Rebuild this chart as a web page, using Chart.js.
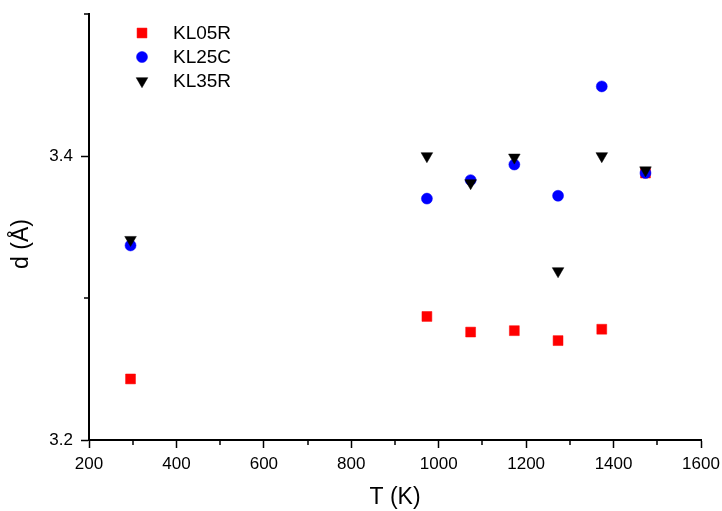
<!DOCTYPE html>
<html>
  <head>
    <meta charset="UTF-8">
    <title>d vs T</title>
    <script src="https://cdn.jsdelivr.net/npm/chart.js"></script>
    <style>
      html, body { margin: 0; padding: 0; background: #fff; }
      #wrap { width: 722px; height: 511px; }
    </style>
  </head>
  <body>
    <div id="wrap"><canvas id="myChart" width="722" height="511"></canvas></div>

    <script>
      // données
      const temperatures = [295, 973, 1073, 1173, 1273, 1373, 1473];
      const kl05r = [3.243, 3.287, 3.276, 3.277, 3.270, 3.278, 3.388];
      const kl25c = [3.337, 3.370, 3.383, 3.394, 3.372, 3.449, 3.388];
      const kl35r = [3.341, 3.400, 3.381, 3.399, 3.319, 3.400, 3.390];
      const xMajorLabels = [200, 400, 600, 800, 1000, 1200, 1400, 1600];
      const yMajorLabels = [3.2, 3.4];

      const FONT = 'Arial, "Liberation Sans", sans-serif';

      function pts(xs, ys) {
        return xs.map((x, i) => ({ x: x, y: ys[i] }));
      }

      const series = [
        { label: 'KL05R', data: kl05r, color: '#ff0000', style: 'rect', radius: 7, rotation: 0, order: 2 },
        { label: 'KL25C', data: kl25c, color: '#0000ff', style: 'circle', radius: 5.5, rotation: 0, order: 1 },
        { label: 'KL35R', data: kl35r, color: '#000000', style: 'triangle', radius: 6.7, rotation: 180, order: 0 }
      ];

      const isMajorX = v => xMajorLabels.some(m => Math.abs(m - v) < 1e-6);
      const isMajorY = v => yMajorLabels.some(m => Math.abs(m - v) < 1e-6);

      // petits traits pour les graduations secondaires + légende + titre Y
      const extras = {
        id: 'extras',
        afterDraw(chart) {
          const ctx = chart.ctx;
          const xs = chart.scales.x, ys = chart.scales.y;
          ctx.save();
          ctx.strokeStyle = '#000';
          ctx.lineWidth = 1.5;
          xs.ticks.forEach(t => {
            if (isMajorX(t.value)) return;
            const px = Math.round(xs.getPixelForValue(t.value));
            ctx.beginPath();
            ctx.moveTo(px, xs.top);
            ctx.lineTo(px, xs.top + 5);
            ctx.stroke();
          });
          ys.ticks.forEach(t => {
            if (isMajorY(t.value)) return;
            const py = Math.round(ys.getPixelForValue(t.value));
            ctx.beginPath();
            ctx.moveTo(ys.right, py);
            ctx.lineTo(ys.right - 5, py);
            ctx.stroke();
          });

          // légende
          series.forEach((s, i) => {
            const y = 33 + i * 24;
            ctx.fillStyle = s.color;
            ctx.strokeStyle = s.color;
            ctx.lineWidth = 0.5;
            Chart.helpers.drawPoint(ctx, { pointStyle: s.style, radius: s.radius, rotation: s.rotation, borderWidth: 0.5 }, 142, y);
            ctx.fillStyle = '#000';
            ctx.font = '19px ' + FONT;
            ctx.textBaseline = 'middle';
            ctx.textAlign = 'left';
            ctx.fillText(s.label, 173, y + 1);
          });

          // titre de l'axe Y
          ctx.translate(22, 244);
          ctx.rotate(-Math.PI / 2);
          ctx.fillStyle = '#000';
          ctx.font = '23px ' + FONT;
          ctx.textAlign = 'center';
          ctx.textBaseline = 'middle';
          ctx.fillText('d (Å)', 0, 0);
          ctx.restore();
        }
      };

      const ctx = document.getElementById('myChart').getContext('2d');
      const chart = new Chart(ctx, {
        type: 'scatter',
        data: {
          datasets: series.map(s => ({
            label: s.label,
            data: pts(temperatures, s.data),
            backgroundColor: s.color,
            borderColor: s.color,
            borderWidth: 0.5,
            pointStyle: s.style,
            pointRadius: s.radius,
            pointHoverRadius: s.radius,
            rotation: s.rotation,
            order: s.order
          }))
        },
        options: {
          responsive: false,
          animation: false,
          devicePixelRatio: 1,
          layout: { padding: { left: 0, top: 14, right: 21, bottom: 0 } },
          plugins: { legend: { display: false }, tooltip: { enabled: false } },
          scales: {
            x: {
              type: 'linear',
              min: 200,
              max: 1600,
              afterFit: s => { s.height = 71; s.paddingLeft = 0; s.paddingRight = 0; },
              border: { display: true, color: '#000', width: 2 },
              grid: {
                drawOnChartArea: false,
                drawTicks: true,
                tickLength: 8,
                tickWidth: 1.5,
                tickColor: c => isMajorX(c.tick.value) ? '#000' : 'rgba(0,0,0,0)'
              },
              ticks: {
                stepSize: 100,
                autoSkip: false,
                maxRotation: 0,
                padding: 6,
                color: '#000',
                font: { family: FONT, size: 17 },
                callback: v => isMajorX(v) ? String(v) : ''
              },
              title: {
                display: true,
                text: 'T (K)',
                color: '#000',
                font: { family: FONT, size: 23 },
                padding: { top: 0, bottom: 0 }
              }
            },
            y: {
              type: 'linear',
              min: 3.2,
              max: 3.5,
              afterFit: s => { s.width = 89; s.paddingTop = 0; s.paddingBottom = 0; },
              border: { display: true, color: '#000', width: 2 },
              grid: {
                drawOnChartArea: false,
                drawTicks: true,
                tickLength: 8,
                tickWidth: 1.5,
                tickColor: c => isMajorY(c.tick.value) ? '#000' : 'rgba(0,0,0,0)'
              },
              ticks: {
                stepSize: 0.1,
                autoSkip: false,
                padding: 8,
                color: '#000',
                font: { family: FONT, size: 17 },
                callback: v => isMajorY(v) ? v.toFixed(1) : ''
              }
            }
          }
        },
        plugins: [extras]
      });
    </script>
  </body>
</html>
